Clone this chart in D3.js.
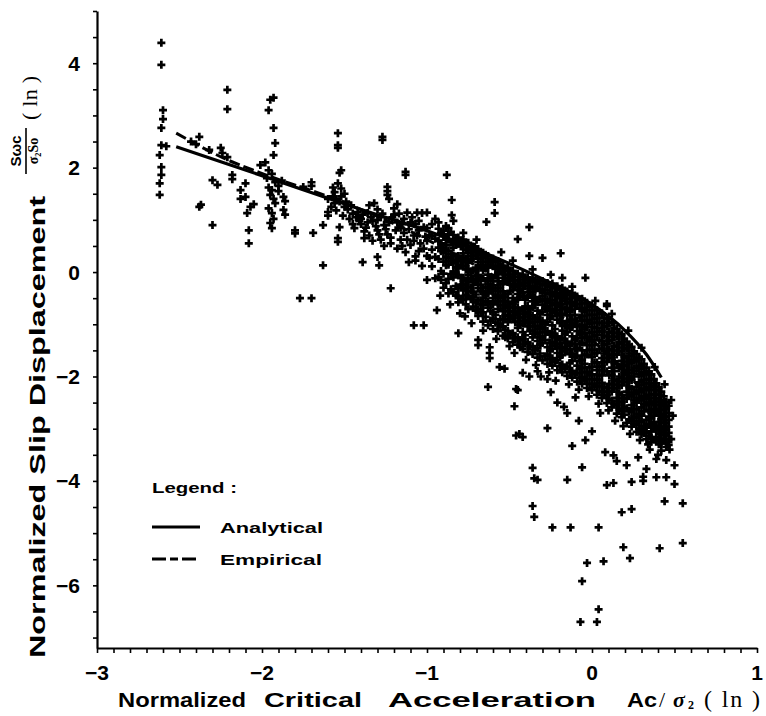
<!DOCTYPE html>
<html>
<head>
<meta charset="utf-8">
<script src="https://cdn.jsdelivr.net/npm/d3@7/dist/d3.min.js"></script>
<style>
body { margin: 0; background: #fff; }
text { font-family: "Liberation Sans", Arial, sans-serif; font-weight: bold; fill: #000; }
.serif { font-family: "Liberation Serif", "Times New Roman", serif; }
</style>
</head>
<body>
<script>
// tick labels
var xTickLabels = [-3, -2, -1, 0, 1];
var yTickLabels = [4, 2, 0, -2, -4, -6];

// fitted curves (x, y)
var analytical = [[-2.52, 2.40], [-2.2, 2.06], [-1.8, 1.63], [-1.4, 1.20], [-1.0, 0.79],
  [-0.6, 0.30], [-0.3, -0.13], [0.0, -0.62], [0.2, -1.12], [0.33, -1.58], [0.42, -2.02]];
var empirical = [[-2.52, 2.66], [-2.21, 2.15], [-2.01, 1.90], [-1.5, 1.33], [-1.0, 0.62],
  [-0.5, -0.25], [0.0, -1.30], [0.2, -1.90], [0.42, -2.75]];

// scatter, sparse left part: [x, y]
var scatterLeft = [
  [-2.61, 4.39], [-2.61, 3.97], [-2.60, 3.10], [-2.60, 2.93], [-2.61, 2.76], [-2.61, 2.43], [-2.58, 2.41],
  [-2.62, 2.24], [-2.61, 2.01], [-2.61, 1.86], [-2.62, 1.70], [-2.62, 1.48],
  [-2.38, 2.59], [-2.43, 2.50], [-2.40, 2.45], [-2.32, 2.34], [-2.25, 2.38], [-2.24, 2.28], [-2.21, 2.20],
  [-2.30, 1.76], [-2.27, 1.67], [-2.38, 1.25], [-2.37, 1.29], [-2.30, 0.90], [-2.21, 3.49], [-2.21, 3.12],
  [-2.18, 1.86], [-2.18, 1.78], [-2.10, 1.70], [-2.13, 1.57], [-2.10, 1.44], [-2.13, 1.40], [-2.09, 1.13],
  [-2.08, 0.80], [-2.08, 0.55], [-2.05, 1.30], [-2.07, 1.25],
  [-1.95, 3.30], [-1.93, 3.34], [-1.96, 3.10], [-1.93, 2.76], [-1.92, 2.47], [-1.93, 2.24], [-2.01, 2.05],
  [-1.98, 2.10], [-1.96, 1.95], [-1.94, 1.88], [-1.97, 1.80], [-1.92, 1.72], [-1.96, 1.62], [-1.94, 1.57],
  [-1.90, 1.65], [-1.95, 1.48], [-1.93, 1.40], [-1.92, 1.32], [-1.96, 1.22], [-1.94, 1.13], [-1.93, 1.02],
  [-1.95, 0.94], [-1.94, 0.84], [-1.87, 1.44], [-1.86, 1.36], [-1.87, 1.19], [-1.86, 1.10], [-1.80, 0.80],
  [-1.80, 0.74], [-1.90, 1.55], [-1.88, 1.75], [-1.77, -0.50], [-1.70, -0.50],
  [-1.75, 1.63], [-1.70, 1.72], [-1.70, 1.65], [-1.69, 0.75], [-1.63, 0.90], [-1.60, 1.15], [-1.60, 1.08],
  [-1.63, 0.13], [-1.54, 2.66], [-1.54, 2.43], [-1.54, 2.38], [-1.53, 1.90], [-1.52, 1.95], [-1.54, 1.70],
  [-1.56, 1.53], [-1.57, 1.45], [-1.55, 1.40], [-1.53, 1.35], [-1.56, 1.32], [-1.53, 0.86], [-1.54, 0.65],
  [-1.54, 0.58], [-1.50, 1.25], [-1.48, 1.20], [-1.52, 1.60], [-1.50, 1.50],
  [-1.60, 1.40], [-1.58, 1.25], [-1.57, 1.62], [-1.55, 1.18], [-1.52, 1.45], [-1.51, 1.08], [-1.49, 1.35],
  [-1.47, 1.02], [-1.46, 1.28], [-1.45, 1.12],
  [-1.45, 0.92], [-1.40, 0.92], [-1.37, 0.85], [-1.44, 0.84], [-1.38, 0.65], [-1.32, 1.32], [-1.35, 1.28],
  [-1.36, 1.13], [-1.43, 1.05], [-1.40, 1.02], [-1.30, 1.20], [-1.28, 1.05], [-1.33, 0.98], [-1.26, 0.90],
  [-1.30, 0.80], [-1.24, 0.72], [-1.28, 0.62], [-1.22, 0.55], [-1.30, 0.29], [-1.29, 0.13], [-1.39, 0.19],
  [-1.27, 2.59], [-1.27, 2.53], [-1.24, 1.63], [-1.24, 1.55], [-1.24, 1.48], [-1.23, 1.40], [-1.22, -0.31],
  [-1.20, 1.10], [-1.18, 0.95], [-1.16, 0.85], [-1.14, 0.75], [-1.12, 0.62], [-1.15, 0.50], [-1.11, 0.19],
  [-1.13, 1.92], [-1.13, 1.86], [-1.12, 1.14], [-1.06, 1.14], [-1.00, 1.14], [-1.08, -1.02], [-1.02, -1.02],
  [-1.03, 1.13], [-1.07, 0.92], [-1.05, 0.80], [-1.08, 0.70], [-1.05, 0.40], [-1.07, 0.30], [-1.00, -0.15],
  [-1.18, 1.30], [-1.20, 1.22],
  [-1.42, 1.15], [-1.41, 0.98], [-1.39, 1.10], [-1.38, 0.78], [-1.36, 0.95], [-1.35, 0.70], [-1.34, 1.05],
  [-1.33, 0.60], [-1.31, 0.88], [-1.30, 1.00], [-1.29, 0.72], [-1.27, 1.12], [-1.26, 0.50], [-1.25, 0.82],
  [-1.23, 0.95], [-1.22, 0.66], [-1.21, 1.05], [-1.19, 0.80], [-1.18, 0.45], [-1.17, 1.12], [-1.16, 0.62],
  [-1.15, 0.92], [-1.14, 1.02], [-1.13, 0.38], [-1.11, 0.82], [-1.10, 0.95], [-1.10, 0.52], [-1.09, 1.05],
  [-1.08, 0.60], [-1.07, 0.22], [-1.06, 0.70], [-1.05, 0.98], [-1.04, 0.55], [-1.03, 0.12], [-1.02, 0.86],
  [-1.02, 0.45], [-1.01, 0.68]
];

// scatter, dense band: [x, y1, y2, ...] per column
var scatterBand = [
  [-1.00, 0.84, 0.60, 0.31],
  [-0.97, 0.92, 0.69, 0.43, 0.11],
  [-0.93, 0.95, 0.83, 0.60, 0.47, 0.25, -0.09],
  [-0.90, 0.79, 0.70, 0.46, 0.37, 0.20, -0.03, -0.30],
  [-0.87, 0.84, 0.72, 0.63, 0.41, 0.27, 0.14, -0.13, -0.41],
  [-0.84, 0.71, 0.60, 0.47, 0.24, 0.17, 0.01, -0.10, -0.38],
  [-0.81, 0.66, 0.54, 0.31, 0.21, 0.07, -0.06, -0.31, -0.46, -0.58],
  [-0.78, 0.62, 0.50, 0.36, 0.27, 0.11, -0.11, -0.24, -0.35, -0.53],
  [-0.75, 0.56, 0.43, 0.31, 0.18, 0.06, -0.05, -0.19, -0.29, -0.46, -0.71],
  [-0.72, 0.49, 0.38, 0.26, 0.03, -0.14, -0.24, -0.38, -0.48, -0.66],
  [-0.69, 0.44, 0.33, 0.19, 0.07, -0.06, -0.16, -0.31, -0.54, -0.71, -0.84],
  [-0.66, 0.37, 0.27, 0.13, 0.03, -0.12, -0.37, -0.49, -0.63, -0.77, -0.95],
  [-0.63, 0.31, 0.19, 0.09, -0.05, -0.17, -0.30, -0.41, -0.56, -0.68, -1.02],
  [-0.60, 0.26, 0.12, -0.12, -0.25, -0.36, -0.50, -0.62, -0.77, -0.89, -1.09],
  [-0.57, 0.21, 0.07, -0.04, -0.18, -0.30, -0.45, -0.56, -0.71, -0.99, -1.13],
  [-0.54, 0.12, 0.02, -0.11, -0.23, -0.37, -0.48, -0.63, -0.75, -0.91, -1.04, -1.22],
  [-0.51, 0.08, -0.06, -0.17, -0.42, -0.57, -0.67, -0.84, -0.96, -1.13, -1.27],
  [-0.48, 0.02, -0.09, -0.23, -0.34, -0.50, -0.60, -0.76, -0.87, -1.17, -1.34],
  [-0.45, -0.03, -0.16, -0.27, -0.42, -0.53, -0.68, -0.79, -0.95, -1.07, -1.25, -1.39],
  [-0.42, -0.05, -0.20, -0.32, -0.46, -0.71, -0.87, -0.99, -1.15, -1.28, -1.47],
  [-0.39, -0.10, -0.21, -0.38, -0.49, -0.65, -0.77, -0.92, -1.04, -1.34, -1.53],
  [-0.36, -0.12, -0.27, -0.39, -0.56, -0.68, -0.83, -0.96, -1.12, -1.25, -1.42, -1.57],
  [-0.33, -0.15, -0.28, -0.58, -0.74, -0.87, -1.03, -1.16, -1.32, -1.46, -1.64],
  [-0.30, -0.17, -0.33, -0.46, -0.63, -0.76, -0.93, -1.06, -1.23, -1.36, -1.69],
  [-0.27, -0.21, -0.34, -0.52, -0.65, -0.82, -0.96, -1.13, -1.44, -1.58, -1.76],
  [-0.24, -0.22, -0.39, -0.54, -0.71, -0.85, -1.02, -1.16, -1.34, -1.47, -1.65, -1.79],
  [-0.21, -0.27, -0.41, -0.59, -0.73, -0.91, -1.23, -1.37, -1.55, -1.69, -1.88],
  [-0.18, -0.30, -0.48, -0.62, -0.80, -0.94, -1.12, -1.26, -1.44, -1.59, -1.77, -1.92],
  [-0.15, -0.37, -0.51, -0.69, -0.83, -1.01, -1.15, -1.33, -1.48, -1.81, -1.99],
  [-0.12, -0.40, -0.58, -0.72, -0.91, -1.05, -1.23, -1.37, -1.56, -1.70, -1.89, -2.02],
  [-0.09, -0.47, -0.61, -0.94, -1.13, -1.27, -1.46, -1.60, -1.79, -1.93, -2.10],
  [-0.06, -0.51, -0.69, -0.84, -1.02, -1.17, -1.35, -1.50, -1.68, -1.83, -2.01, -2.14],
  [-0.03, -0.59, -0.73, -0.92, -1.06, -1.25, -1.40, -1.58, -1.91, -2.05, -2.22],
  [0.00, -0.64, -0.82, -0.97, -1.15, -1.30, -1.49, -1.63, -1.82, -1.96, -2.14, -2.26],
  [0.03, -0.73, -0.88, -1.07, -1.21, -1.55, -1.73, -1.88, -2.06, -2.19, -2.35],
  [0.06, -0.79, -0.98, -1.13, -1.32, -1.47, -1.65, -1.80, -1.98, -2.12, -2.29, -2.41],
  [0.09, -0.89, -1.04, -1.23, -1.38, -1.57, -1.72, -1.90, -2.22, -2.35, -2.51],
  [0.12, -0.97, -1.16, -1.31, -1.50, -1.65, -1.83, -1.97, -2.15, -2.29, -2.46, -2.59],
  [0.15, -1.09, -1.24, -1.43, -1.58, -1.76, -2.09, -2.23, -2.41, -2.54, -2.71],
  [0.18, -1.19, -1.37, -1.52, -1.70, -1.85, -2.03, -2.17, -2.35, -2.49, -2.66, -2.78],
  [0.21, -1.33, -1.47, -1.65, -1.79, -1.97, -2.11, -2.29, -2.43, -2.61, -2.89],
  [0.24, -1.43, -1.61, -1.75, -1.93, -2.07, -2.24, -2.38, -2.55, -2.68, -2.85, -2.96],
  [0.27, -1.57, -1.71, -1.89, -2.20, -2.33, -2.50, -2.63, -2.80, -2.92, -3.06],
  [0.30, -1.67, -1.85, -1.99, -2.16, -2.29, -2.46, -2.59, -2.75, -2.87, -3.02, -3.11],
  [0.33, -1.83, -1.96, -2.13, -2.26, -2.43, -2.55, -2.83, -2.98, -3.08, -3.20],
  [0.36, -1.96, -2.13, -2.25, -2.41, -2.53, -2.69, -2.80, -2.95, -3.05, -3.18, -3.25],
  [0.39, -2.13, -2.26, -2.42, -2.54, -2.69, -2.94, -3.03, -3.16, -3.24],
  [0.42, -2.29, -2.45, -2.56, -2.71, -2.82, -2.96, -3.06, -3.19, -3.28],
  [0.45, -2.49, -2.61, -2.77, -2.89, -3.03, -3.13, -3.27, -3.35]
];

// second set of columns, lying between the columns of the first set
var scatterBand2 = [
  [-0.985, 0.71, 0.27],
  [-0.950, 0.64, 0.29, -0.12],
  [-0.915, 0.74, 0.55, 0.40, 0.02, -0.15],
  [-0.885, 0.88, 0.62, 0.51, 0.29, 0.13, -0.21],
  [-0.855, 0.77, 0.57, 0.35, 0.21, -0.04, -0.33],
  [-0.825, 0.65, 0.53, 0.30, 0.09, -0.03, -0.27, -0.45],
  [-0.795, 0.60, 0.49, 0.26, 0.14, -0.11, -0.24, -0.51],
  [-0.765, 0.56, 0.43, 0.20, 0.05, -0.16, -0.30, -0.44, -0.62],
  [-0.735, 0.50, 0.37, 0.24, 0.01, -0.12, -0.36, -0.52],
  [-0.705, 0.44, 0.31, 0.08, -0.07, -0.20, -0.43, -0.58, -0.74],
  [-0.675, 0.38, 0.25, 0.13, -0.11, -0.24, -0.37, -0.62, -0.77],
  [-0.645, 0.33, 0.20, 0.08, -0.17, -0.29, -0.44, -0.57, -0.86],
  [-0.615, 0.24, 0.14, -0.10, -0.23, -0.35, -0.61, -0.75, -0.93],
  [-0.585, 0.19, 0.06, -0.06, -0.31, -0.43, -0.56, -0.82, -0.97],
  [-0.555, 0.15, 0.01, -0.23, -0.36, -0.50, -0.64, -0.90, -1.05],
  [-0.525, 0.07, -0.05, -0.17, -0.43, -0.55, -0.69, -0.83, -1.11, -1.25],
  [-0.495, 0.03, -0.12, -0.24, -0.36, -0.62, -0.75, -0.90, -1.20],
  [-0.465, -0.03, -0.16, -0.29, -0.55, -0.68, -0.82, -0.96, -1.25],
  [-0.435, -0.09, -0.22, -0.35, -0.47, -0.74, -0.87, -1.01, -1.31, -1.44],
  [-0.405, -0.13, -0.26, -0.53, -0.66, -0.80, -0.93, -1.21, -1.37],
  [-0.375, -0.16, -0.30, -0.44, -0.71, -0.85, -0.98, -1.13, -1.43],
  [-0.345, -0.19, -0.33, -0.48, -0.62, -0.90, -1.04, -1.19, -1.49],
  [-0.315, -0.22, -0.36, -0.52, -0.80, -0.95, -1.09, -1.25, -1.39, -1.56],
  [-0.285, -0.25, -0.40, -0.55, -0.70, -1.00, -1.15, -1.30, -1.61],
  [-0.255, -0.28, -0.43, -0.59, -0.74, -0.89, -1.20, -1.35, -1.51, -1.67],
  [-0.225, -0.31, -0.46, -0.63, -0.78, -1.09, -1.25, -1.41, -1.72],
  [-0.195, -0.34, -0.50, -0.66, -0.82, -0.98, -1.30, -1.46, -1.62, -1.80],
  [-0.165, -0.39, -0.55, -0.71, -1.03, -1.19, -1.35, -1.52, -1.85],
  [-0.135, -0.44, -0.60, -0.76, -0.92, -1.08, -1.41, -1.57, -1.74, -1.91],
  [-0.105, -0.49, -0.65, -0.82, -0.98, -1.30, -1.47, -1.63, -1.96],
  [-0.075, -0.54, -0.70, -0.87, -1.04, -1.20, -1.37, -1.70, -1.86, -2.02],
  [-0.045, -0.60, -0.76, -0.93, -1.10, -1.26, -1.59, -1.76, -1.92, -2.08],
  [-0.015, -0.66, -0.82, -0.99, -1.16, -1.33, -1.49, -1.82, -1.98, -2.14],
  [0.015, -0.73, -0.90, -1.06, -1.23, -1.40, -1.56, -1.73, -2.05, -2.20],
  [0.045, -0.80, -0.97, -1.14, -1.31, -1.47, -1.81, -1.97, -2.13, -2.28],
  [0.075, -0.88, -1.05, -1.22, -1.39, -1.56, -1.72, -1.89, -2.21, -2.36],
  [0.105, -0.97, -1.14, -1.31, -1.48, -1.64, -1.98, -2.14, -2.29, -2.44],
  [0.135, -1.07, -1.24, -1.41, -1.57, -1.74, -1.90, -2.06, -2.22, -2.53],
  [0.165, -1.17, -1.34, -1.51, -1.84, -2.00, -2.16, -2.32, -2.48, -2.63],
  [0.195, -1.28, -1.45, -1.61, -1.77, -1.94, -2.10, -2.42, -2.58, -2.73],
  [0.225, -1.40, -1.56, -1.72, -1.88, -2.04, -2.20, -2.36, -2.67, -2.82],
  [0.255, -1.52, -1.68, -1.84, -2.00, -2.31, -2.46, -2.62, -2.77, -2.91],
  [0.285, -1.64, -1.80, -1.96, -2.11, -2.27, -2.42, -2.72, -2.86, -3.00],
  [0.315, -1.76, -1.92, -2.07, -2.23, -2.38, -2.53, -2.67, -2.95, -3.08],
  [0.345, -1.90, -2.05, -2.20, -2.35, -2.50, -2.64, -2.77, -2.91, -3.14],
  [0.375, -2.05, -2.19, -2.34, -2.48, -2.62, -2.75, -2.88, -3.00, -3.21],
  [0.405, -2.21, -2.35, -2.49, -2.62, -2.75, -2.87, -2.99, -3.10, -3.30],
  [0.435, -2.38, -2.52, -2.65, -2.77, -2.89, -3.01, -3.12, -3.23],
  [0.465, -2.56, -2.70, -2.83, -2.96, -3.08, -3.20, -3.31]
];

// points along the ragged edges of the band: [x, y]
var scatterEdge = [
  [-0.92, -0.45], [-0.86, -0.62], [-0.77, -0.85], [-0.73, -0.98], [-0.66, -1.12], [-0.58, -1.28], [-0.50, -1.42],
  [-0.47, -1.55], [-0.40, -1.68], [-0.34, -1.78], [-0.26, -1.92], [-0.22, -2.08], [-0.14, -2.15], [-0.08, -2.25],
  [-0.02, -2.38], [0.04, -2.52], [0.10, -2.65], [0.14, -2.85], [0.19, -2.95], [0.23, -3.10], [0.29, -3.22],
  [0.34, -3.30], [0.42, -3.42],
  [-0.95, 1.02], [-0.78, 0.75], [-0.70, 0.62], [-0.55, 0.38], [-0.48, 0.22], [-0.36, 0.05], [-0.25, -0.05],
  [-0.12, -0.28], [0.02, -0.55], [0.12, -0.80], [0.22, -1.12], [0.30, -1.45], [0.38, -1.82], [0.44, -2.15],
  [0.48, -2.45], [0.49, -2.75]
];

// scatter, scattered points around and below the band: [x, y]
var scatterOut = [
  [-0.88, 1.86], [-0.85, 1.38], [-0.85, 1.09], [-0.84, 0.98], [-0.94, -0.73], [-0.80, -0.79], [-0.81, -1.17],
  [-0.71, 0.48], [-0.69, -1.30], [-0.69, -1.40], [-0.63, -2.20], [-0.64, 0.96], [-0.59, 1.34], [-0.59, 1.13],
  [-0.62, -1.44], [-0.62, -1.55], [-0.62, -1.65], [-0.56, -1.82], [-0.53, -1.85], [-0.45, 0.63], [-0.38, 0.86],
  [-0.38, 0.31], [-0.30, 0.27], [-0.19, 0.36], [-0.18, -0.11], [-0.04, -0.11], [0.09, -0.61], [0.09, -0.65],
  [-0.45, -2.26], [-0.42, -1.93], [-0.38, -2.00], [-0.31, -2.00], [-0.27, -2.05], [-0.18, -0.44], [-0.17, -0.40],
  [-0.46, -2.24], [-0.47, -2.57], [-0.27, -2.99], [-0.46, -3.13], [-0.44, -3.10], [-0.42, -3.16], [-0.21, -2.50],
  [-0.17, -2.58], [-0.15, -2.70], [-0.12, -3.33], [-0.04, -3.22], [-0.06, -3.74], [-0.36, -3.75], [-0.35, -3.95],
  [-0.33, -3.98], [-0.15, -3.98], [-0.36, -4.48], [-0.35, -4.69], [-0.24, -4.89], [-0.13, -4.89], [0.04, -4.89],
  [-0.03, -5.57], [0.07, -5.54], [-0.06, -5.92], [0.04, -6.46], [-0.07, -6.70], [0.03, -6.70], [0.19, -5.27],
  [0.23, -5.48], [0.41, -5.29], [0.55, -5.19], [0.55, -4.43], [0.44, -4.39], [0.18, -4.60], [0.24, -4.54],
  [0.09, -4.08], [0.13, -4.04], [0.24, -4.02], [0.31, -4.00], [0.31, -3.92], [0.39, -3.93], [0.45, -3.93],
  [0.50, -4.06], [0.50, -3.70], [0.45, -3.60], [0.39, -3.58], [0.33, -3.77], [0.21, -3.70], [0.08, -3.45],
  [0.13, -3.51], [0.15, -3.62], [0.28, -3.55], [0.45, -2.97], [0.48, -3.20], [0.47, -3.40], [0.35, -3.40],
  [0.00, -3.05], [-0.08, -2.85], [0.05, -2.70], [-0.10, -2.40], [-0.25, -2.30], [-0.33, -1.90], [0.40, -3.50]
];

var width = 766, height = 716;
var svg = d3.select("body").append("svg")
  .attr("width", width)
  .attr("height", height);

var x = d3.scaleLinear().domain([-3, 1]).range([97, 757]);
var y = d3.scaleLinear().domain([-7.2, 5]).range([648, 11]);

// axes: minor ticks every 0.1 on x, every 0.5 on y
svg.append("g")
  .attr("transform", "translate(0," + y(-7.2) + ")")
  .call(d3.axisBottom(x).tickValues(d3.range(-30, 11).map(function(d) { return d / 10; }))
    .tickSize(5).tickSizeOuter(0).tickFormat(""))
  .call(function(g) { g.select(".domain").attr("stroke-width", 2.2); g.selectAll(".tick line").attr("stroke-width", 1.6); });

svg.append("g")
  .attr("transform", "translate(" + x(-3) + ",0)")
  .call(d3.axisLeft(y).tickValues(d3.range(-14, 11).map(function(d) { return d / 2; }))
    .tickSize(4).tickSizeOuter(0).tickFormat(""))
  .call(function(g) { g.select(".domain").attr("stroke-width", 2.2); g.selectAll(".tick line").attr("stroke-width", 1.6); });

function fmt(v) { return v < 0 ? "\u2212" + Math.abs(v) : String(v); }

svg.selectAll(".xlab").data(xTickLabels).enter().append("text")
  .attr("class", "xlab")
  .attr("x", function(d) { return x(d); })
  .attr("y", 680)
  .attr("text-anchor", "middle")
  .style("font-size", "21px")
  .text(fmt);

svg.selectAll(".ylab").data(yTickLabels).enter().append("text")
  .attr("class", "ylab")
  .attr("x", 80)
  .attr("y", function(d) { return y(d) + 7.5; })
  .attr("text-anchor", "end")
  .style("font-size", "21px")
  .text(fmt);

// x axis title
var xt = svg.append("g").style("font-size", "21px");
xt.append("text").attr("x", 118).attr("y", 707).attr("textLength", 128).attr("lengthAdjust", "spacingAndGlyphs").text("Normalized");
xt.append("text").attr("x", 264).attr("y", 707).attr("textLength", 98).attr("lengthAdjust", "spacingAndGlyphs").text("Critical");
xt.append("text").attr("x", 388).attr("y", 707).attr("textLength", 208).attr("lengthAdjust", "spacingAndGlyphs").text("Acceleration");
xt.append("text").attr("x", 627).attr("y", 707).attr("textLength", 30).attr("lengthAdjust", "spacingAndGlyphs").text("Ac");
xt.append("text").attr("class", "serif").attr("x", 659).attr("y", 707).style("font-weight", "normal").style("font-size", "22px").text("/");
xt.append("text").attr("class", "serif").attr("x", 673).attr("y", 707).style("font-style", "italic").style("font-size", "22px").text("\u03c3");
xt.append("text").attr("class", "serif").attr("x", 688).attr("y", 709).style("font-size", "12px").text("2");
xt.append("text").attr("class", "serif").attr("x", 704).attr("y", 707).style("font-weight", "normal").style("font-size", "24px")
  .attr("textLength", 56).attr("lengthAdjust", "spacing").text("( ln )");

// y axis title, rotated
var yt = svg.append("g").attr("transform", "translate(45,0) rotate(-90)").style("font-size", "22px");
yt.append("text").attr("x", -658).attr("y", 0).attr("textLength", 462).attr("lengthAdjust", "spacingAndGlyphs")
  .text("Normalized Slip Displacement");
yt.append("text").attr("x", -151).attr("y", -24).attr("text-anchor", "middle").style("font-size", "15px").text("S\u03c9c");
yt.append("line").attr("x1", -174).attr("x2", -128).attr("y1", -19).attr("y2", -19).attr("stroke", "#000").attr("stroke-width", 1.6);
yt.append("text").attr("class", "serif").attr("x", -151).attr("y", -7).attr("text-anchor", "middle").style("font-size", "14px").text("\u03c3\u2082So");
yt.append("text").attr("class", "serif").attr("x", -120).attr("y", -8).style("font-weight", "normal").style("font-size", "22px")
  .attr("textLength", 44).attr("lengthAdjust", "spacing").text("( ln )");

// scatter points
var pts = scatterLeft.concat(scatterOut, scatterEdge);
scatterBand.concat(scatterBand2).forEach(function(c) {
  c.slice(1).forEach(function(v) { pts.push([c[0], v]); });
});
svg.append("g").selectAll("path").data(pts).enter().append("path")
  .attr("transform", function(d) { return "translate(" + x(d[0]) + "," + y(d[1]) + ")"; })
  .attr("d", "M-4,0H4M0,-4V4")
  .attr("stroke", "#000")
  .attr("stroke-width", 2.7);

// curves
var line = d3.line().x(function(d) { return x(d[0]); }).y(function(d) { return y(d[1]); }).curve(d3.curveMonotoneX);
svg.append("path").attr("d", line(empirical)).attr("fill", "none").attr("stroke", "#000")
  .attr("stroke-width", 3).attr("stroke-dasharray", "11,4");
svg.append("path").attr("d", line(analytical)).attr("fill", "none").attr("stroke", "#000")
  .attr("stroke-width", 3.2);

// legend
var lg = svg.append("g").style("font-size", "14px");
lg.append("text").attr("x", 152).attr("y", 493).attr("textLength", 85).attr("lengthAdjust", "spacingAndGlyphs").text("Legend :");
lg.append("line").attr("x1", 152).attr("x2", 200).attr("y1", 527).attr("y2", 527).attr("stroke", "#000").attr("stroke-width", 3);
lg.append("text").attr("x", 220).attr("y", 533).attr("textLength", 103).attr("lengthAdjust", "spacingAndGlyphs").text("Analytical");
lg.append("line").attr("x1", 152).attr("x2", 200).attr("y1", 559).attr("y2", 559).attr("stroke", "#000").attr("stroke-width", 3)
  .attr("stroke-dasharray", "14,4,8,4");
lg.append("text").attr("x", 220).attr("y", 565).attr("textLength", 102).attr("lengthAdjust", "spacingAndGlyphs").text("Empirical");
</script>
</body>
</html>
